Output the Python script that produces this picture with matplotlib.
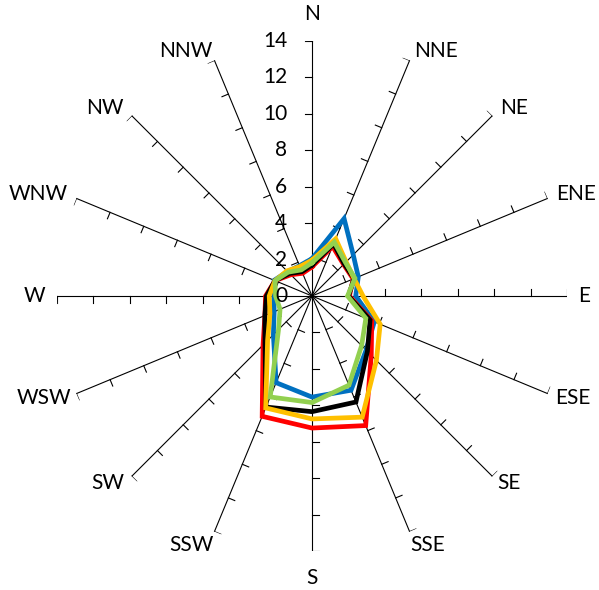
import numpy as np
import matplotlib
matplotlib.use("Agg")
import matplotlib.pyplot as plt

plt.rcParams["font.family"] = ["Lato", "DejaVu Sans"]

# 16 wind directions, clockwise from north
directions = ["N", "NNE", "NE", "ENE", "E", "ESE", "SE", "SSE",
              "S", "SSW", "SW", "WSW", "W", "WNW", "NW", "NNW"]

# series values
blue = [2.05, 4.6, 3.2, 2.75, 2.4, 3.7, 4.2, 5.6, 5.55, 5.15, 3.0, 2.25, 2.1, 2.25, 1.9, 1.8]
red = [1.6, 2.95, 2.45, 2.45, 2.05, 3.55, 4.6, 7.7, 7.25, 7.15, 3.8, 2.8, 2.55, 2.2, 1.65, 1.35]
black = [1.7, 3.1, 2.5, 2.5, 2.0, 3.45, 4.3, 6.3, 6.35, 6.6, 3.65, 2.8, 2.5, 2.2, 1.75, 1.45]
yellow = [1.97, 3.4, 2.65, 2.5, 2.8, 4.05, 5.0, 7.2, 6.75, 6.65, 3.45, 2.5, 2.35, 2.2, 1.95, 1.75]
green = [1.83, 3.2, 2.6, 2.55, 1.95, 3.2, 3.85, 5.3, 5.85, 6.0, 2.6, 1.9, 2.0, 2.2, 1.85, 1.55]

value_ticks = [0, 2, 4, 6, 8, 10, 12, 14]

series = [(blue, "#0070C0"), (red, "#FF0000"), (black, "#000000"),
          (yellow, "#FFC000"), (green, "#92D050")]

theta = np.deg2rad(np.arange(len(directions)) * 22.5)
rmax = 14

fig = plt.figure(figsize=(5.99, 5.90), dpi=100)
ax = fig.add_axes([0.0952, 0.0661, 0.8514, 0.8644], projection="polar")
ax.set_theta_zero_location("N")
ax.set_theta_direction(-1)
ax.set_ylim(0, rmax)
ax.grid(False)
ax.spines["polar"].set_visible(False)
ax.set_xticks([])
ax.set_yticks([])

# spokes with small tick marks on the counter-clockwise side
tick_len = 0.38
for t in theta:
    ax.plot([t, t], [0, rmax], color="black", lw=0.8, zorder=1)
    for r in value_ticks[1:]:
        ax.plot([t, t - np.arctan(tick_len / r)], [r, np.hypot(r, tick_len)],
                color="black", lw=0.8, zorder=1)

# data polygons
for vals, col in series:
    v = vals + vals[:1]
    t = np.append(theta, theta[0])
    ax.plot(t, v, color=col, lw=3.4, solid_joinstyle="miter", zorder=3)

# value labels along the north spoke
for v in value_ticks:
    ax.annotate(str(v), xy=(0, v), xytext=(-18, 0), textcoords="offset points",
                ha="right", va="center", fontsize=15, annotation_clip=False)

# direction labels (offsets in pixels from the spoke end)
label_offsets = {
    "N": (0, 27, "center"), "NNE": (5, 9, "left"), "NE": (8, 8, "left"),
    "ENE": (9, 4, "left"), "E": (11, 0, "left"), "ESE": (8, -4, "left"),
    "SE": (5, -7, "left"), "SSE": (1, -13, "left"), "S": (0, -27, "center"),
    "SSW": (-1, -13, "right"), "SW": (-7, -7, "right"), "WSW": (-5, -4, "right"),
    "W": (-12, 0, "right"), "WNW": (-9, 4, "right"), "NW": (-8, 8, "right"),
    "NNW": (-2, 9, "right"),
}
for t, name in zip(theta, directions):
    dx, dy, ha = label_offsets[name]
    ax.annotate(name, xy=(t, rmax), xytext=(dx * 0.72, dy * 0.72),
                textcoords="offset points", ha=ha, va="center", fontsize=15,
                annotation_clip=False)

fig.savefig("out.png", dpi=100)
